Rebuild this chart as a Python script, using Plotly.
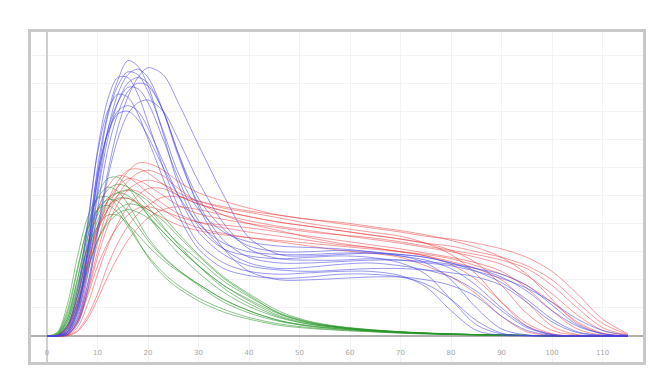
import plotly.graph_objects as go

# Shared sample positions (x) for every curve
X_GRID = [0, 2, 4, 6, 8, 10, 12, 14, 16, 18, 20, 23, 26, 30, 35, 40, 46, 52, 58, 64,
          70, 75, 80, 85, 90, 95, 100, 105, 110, 115]

TICK_VALS = [0, 10, 20, 30, 40, 50, 60, 70, 80, 90, 100, 110]
TICK_TEXT = ["0", "10", "20", "30", "40", "50", "60", "70", "80", "90", "100", "110"]

BLUE_Y = [
    [0, 0, 0.2, 1.0, 3.0, 6.0, 7.9, 9.1, 9.8, 9.6, 8.9, 7.2, 5.4, 3.9, 3.1, 2.85, 2.75, 2.8, 2.85, 2.8, 2.6, 2.2, 1.3, 0.4, 0.07, 0.02, 0.01, 0, 0, 0],
    [0, 0, 0.05, 0.5, 1.8, 3.8, 5.8, 7.4, 8.5, 9.2, 9.55, 9.3, 8.3, 6.8, 5.0, 3.5, 2.9, 2.85, 2.9, 2.95, 2.9, 2.8, 2.6, 2.4, 2.1, 1.6, 0.9, 0.35, 0.08, 0],
    [0, 0, 0.3, 1.4, 3.8, 6.6, 8.4, 9.2, 9.2, 8.6, 7.6, 6.0, 4.6, 3.3, 2.6, 2.3, 2.2, 2.25, 2.3, 2.3, 2.15, 1.75, 0.9, 0.2, 0.03, 0, 0, 0, 0, 0],
    [0, 0, 0.1, 0.7, 2.4, 5.0, 7.0, 8.3, 9.0, 9.2, 9.0, 8.0, 6.5, 4.9, 3.8, 3.2, 3.0, 3.0, 3.05, 3.0, 2.9, 2.8, 2.6, 2.3, 1.9, 1.3, 0.6, 0.15, 0.02, 0],
    [0, 0, 0.15, 0.9, 2.8, 5.5, 7.3, 8.3, 8.85, 8.8, 8.3, 7.0, 5.6, 4.1, 3.1, 2.6, 2.4, 2.45, 2.55, 2.6, 2.5, 2.35, 2.1, 1.6, 0.9, 0.3, 0.05, 0, 0, 0],
    [0, 0.02, 0.35, 1.6, 4.0, 6.5, 8.0, 8.6, 8.5, 7.9, 7.0, 5.6, 4.3, 3.1, 2.4, 2.15, 2.05, 2.1, 2.2, 2.2, 2.1, 1.85, 1.3, 0.55, 0.1, 0.01, 0, 0, 0, 0],
    [0, 0, 0.05, 0.4, 1.6, 3.6, 5.6, 7.0, 7.9, 8.3, 8.4, 8.0, 7.0, 5.5, 4.0, 3.1, 2.75, 2.7, 2.7, 2.75, 2.7, 2.6, 2.5, 2.3, 2.05, 1.7, 1.2, 0.6, 0.2, 0.02],
    [0, 0, 0.2, 1.0, 3.0, 5.6, 7.2, 8.0, 8.2, 8.0, 7.4, 6.2, 5.0, 3.7, 2.9, 2.5, 2.35, 2.3, 2.35, 2.4, 2.4, 2.35, 2.25, 2.1, 1.8, 1.2, 0.5, 0.12, 0.02, 0],
    [0, 0, 0.1, 0.6, 2.1, 4.5, 6.6, 7.9, 8.7, 9.0, 8.9, 8.0, 6.5, 4.6, 3.1, 2.3, 2.0, 2.0, 2.05, 2.1, 2.1, 2.0, 1.8, 1.4, 0.7, 0.2, 0.03, 0, 0, 0],
    [0, 0, 0.25, 1.2, 3.4, 5.8, 7.2, 7.9, 8.0, 7.7, 7.1, 6.0, 5.0, 4.0, 3.3, 3.0, 2.9, 2.9, 2.95, 2.95, 2.85, 2.6, 2.0, 1.0, 0.25, 0.04, 0, 0, 0, 0],
    [0, 0, 0.1, 0.8, 2.6, 5.2, 7.3, 8.6, 9.3, 9.5, 9.2, 8.0, 6.4, 4.7, 3.4, 2.8, 2.6, 2.6, 2.65, 2.7, 2.7, 2.65, 2.55, 2.4, 2.2, 1.8, 1.1, 0.4, 0.08, 0],
    [0, 0, 0.15, 0.9, 2.9, 5.7, 7.8, 8.9, 9.4, 9.3, 8.7, 7.3, 5.8, 4.5, 3.7, 3.35, 3.2, 3.15, 3.1, 3.0, 2.85, 2.7, 2.4, 1.8, 1.0, 0.35, 0.06, 0, 0, 0],
]

RED_Y = [
    [0, 0, 0.1, 0.6, 1.8, 3.3, 4.5, 5.3, 5.85, 6.15, 6.15, 5.9, 5.5, 5.1, 4.8, 4.55, 4.3, 4.15, 4.05, 3.9, 3.75, 3.6, 3.4, 3.15, 2.8, 2.2, 1.3, 0.45, 0.08, 0],
    [0, 0, 0.15, 0.8, 2.2, 3.7, 4.8, 5.5, 5.9, 5.95, 5.8, 5.4, 5.0, 4.7, 4.45, 4.25, 4.05, 3.9, 3.75, 3.6, 3.45, 3.3, 3.05, 2.6, 1.8, 0.8, 0.2, 0.03, 0, 0],
    [0, 0, 0.2, 1.0, 2.5, 3.9, 4.8, 5.3, 5.6, 5.55, 5.35, 5.0, 4.65, 4.35, 4.15, 4.0, 3.85, 3.7, 3.6, 3.5, 3.35, 3.2, 3.05, 2.9, 2.7, 2.4, 1.8, 1.0, 0.3, 0.03],
    [0, 0, 0.05, 0.5, 1.5, 2.8, 3.9, 4.7, 5.2, 5.45, 5.55, 5.4, 5.1, 4.8, 4.55, 4.4, 4.2, 4.0, 3.85, 3.7, 3.55, 3.3, 2.9, 2.2, 1.2, 0.35, 0.05, 0, 0, 0],
    [0, 0.02, 0.35, 1.4, 3.0, 4.4, 5.3, 5.7, 5.65, 5.4, 5.1, 4.7, 4.35, 4.05, 3.85, 3.7, 3.55, 3.4, 3.25, 3.15, 3.0, 2.85, 2.55, 2.0, 1.2, 0.45, 0.08, 0, 0, 0],
    [0, 0, 0.03, 0.3, 1.1, 2.2, 3.2, 4.0, 4.6, 5.0, 5.25, 5.25, 5.0, 4.7, 4.45, 4.25, 4.05, 3.9, 3.75, 3.6, 3.45, 3.3, 3.2, 3.0, 2.8, 2.5, 2.0, 1.2, 0.45, 0.05],
    [0, 0, 0.05, 0.45, 1.4, 2.5, 3.3, 3.9, 4.3, 4.55, 4.6, 4.45, 4.25, 4.05, 3.95, 3.85, 3.7, 3.55, 3.4, 3.25, 3.1, 2.95, 2.8, 2.6, 2.3, 1.7, 0.9, 0.25, 0.03, 0],
    [0, 0, 0.02, 0.2, 0.7, 1.5, 2.5, 3.3, 3.9, 4.35, 4.65, 4.95, 4.95, 4.8, 4.6, 4.45, 4.3, 4.15, 4.0, 3.85, 3.7, 3.55, 3.45, 3.3, 3.1, 2.8, 2.3, 1.5, 0.6, 0.08],
    [0, 0.01, 0.25, 1.1, 2.5, 3.7, 4.5, 5.0, 5.2, 5.15, 4.9, 4.5, 4.15, 3.85, 3.65, 3.5, 3.35, 3.2, 3.05, 2.95, 2.8, 2.5, 2.1, 1.5, 0.7, 0.15, 0.02, 0, 0, 0],
    [0, 0, 0.01, 0.15, 0.6, 1.3, 2.1, 2.8, 3.4, 3.85, 4.2, 4.5, 4.6, 4.5, 4.3, 4.1, 3.9, 3.75, 3.6, 3.45, 3.3, 3.15, 3.0, 2.8, 2.55, 2.15, 1.5, 0.75, 0.2, 0.02],
    [0, 0, 0.05, 0.5, 1.6, 3.0, 4.2, 5.0, 5.5, 5.8, 5.9, 5.7, 5.25, 4.75, 4.3, 4.0, 3.75, 3.5, 3.3, 3.15, 3.0, 2.85, 2.65, 2.4, 2.0, 1.2, 0.35, 0.05, 0, 0],
    [0, 0.01, 0.3, 1.2, 2.6, 3.8, 4.5, 4.85, 4.9, 4.75, 4.5, 4.2, 3.95, 3.75, 3.6, 3.5, 3.4, 3.3, 3.2, 3.1, 3.0, 2.9, 2.75, 2.5, 2.2, 1.8, 1.2, 0.5, 0.1, 0],
]

GREEN_Y = [
    [0, 0.05, 0.6, 2.0, 3.7, 5.0, 5.6, 5.65, 5.3, 4.8, 4.3, 3.55, 2.95, 2.25, 1.55, 1.05, 0.65, 0.42, 0.3, 0.2, 0.14, 0.1, 0.07, 0.05, 0.03, 0.02, 0.01, 0, 0, 0],
    [0, 0.08, 0.8, 2.3, 3.9, 4.9, 5.3, 5.15, 4.7, 4.1, 3.5, 2.85, 2.35, 1.8, 1.2, 0.82, 0.52, 0.35, 0.25, 0.18, 0.12, 0.09, 0.06, 0.04, 0.03, 0.02, 0.01, 0, 0, 0],
    [0, 0.03, 0.5, 1.7, 3.2, 4.3, 4.9, 5.1, 5.0, 4.7, 4.3, 3.7, 3.15, 2.5, 1.8, 1.3, 0.78, 0.47, 0.3, 0.2, 0.14, 0.1, 0.07, 0.05, 0.03, 0.02, 0.01, 0, 0, 0],
    [0, 0.02, 0.4, 1.4, 2.8, 3.9, 4.6, 4.9, 4.9, 4.7, 4.4, 3.85, 3.3, 2.7, 1.95, 1.4, 0.82, 0.5, 0.32, 0.22, 0.15, 0.1, 0.07, 0.05, 0.03, 0.02, 0.01, 0, 0, 0],
    [0, 0.1, 0.9, 2.4, 3.8, 4.5, 4.65, 4.4, 3.9, 3.35, 2.85, 2.25, 1.8, 1.35, 0.95, 0.66, 0.43, 0.3, 0.22, 0.16, 0.11, 0.08, 0.06, 0.04, 0.03, 0.02, 0.01, 0, 0, 0],
    [0, 0.02, 0.35, 1.2, 2.4, 3.4, 4.0, 4.35, 4.5, 4.4, 4.2, 3.7, 3.15, 2.5, 1.8, 1.25, 0.72, 0.45, 0.3, 0.2, 0.14, 0.1, 0.07, 0.05, 0.03, 0.02, 0.01, 0, 0, 0],
    [0, 0.04, 0.6, 1.8, 3.1, 3.9, 4.3, 4.3, 4.0, 3.6, 3.2, 2.7, 2.3, 1.85, 1.3, 0.9, 0.55, 0.37, 0.27, 0.19, 0.13, 0.09, 0.06, 0.04, 0.03, 0.02, 0.01, 0, 0, 0],
    [0, 0.03, 0.5, 1.6, 3.2, 4.5, 5.2, 5.4, 5.3, 5.0, 4.6, 3.9, 3.25, 2.5, 1.7, 1.15, 0.68, 0.42, 0.29, 0.2, 0.14, 0.1, 0.07, 0.05, 0.03, 0.02, 0.01, 0, 0, 0],
    [0, 0.12, 1.1, 2.8, 4.2, 4.9, 4.95, 4.6, 4.0, 3.4, 2.8, 2.15, 1.7, 1.25, 0.85, 0.6, 0.38, 0.27, 0.2, 0.15, 0.1, 0.07, 0.05, 0.04, 0.03, 0.02, 0.01, 0, 0, 0],
    [0, 0.02, 0.4, 1.4, 2.9, 4.1, 4.8, 5.1, 5.2, 5.05, 4.8, 4.25, 3.65, 2.9, 2.1, 1.5, 0.88, 0.52, 0.34, 0.23, 0.15, 0.11, 0.08, 0.05, 0.03, 0.02, 0.01, 0, 0, 0],
    [0, 0.06, 0.7, 2.0, 3.5, 4.5, 4.85, 4.8, 4.4, 3.9, 3.4, 2.8, 2.35, 1.85, 1.3, 0.9, 0.55, 0.35, 0.25, 0.18, 0.12, 0.09, 0.06, 0.04, 0.03, 0.02, 0.01, 0, 0, 0],
    [0, 0.01, 0.3, 1.1, 2.3, 3.4, 4.1, 4.5, 4.7, 4.65, 4.5, 4.1, 3.55, 2.85, 2.05, 1.45, 0.8, 0.48, 0.32, 0.22, 0.15, 0.1, 0.07, 0.05, 0.03, 0.02, 0.01, 0, 0, 0],
]

GROUPS = [
    ("rgba(40,150,40,0.55)", GREEN_Y),
    ("rgba(235,55,55,0.5)", RED_Y),
    ("rgba(70,70,225,0.55)", BLUE_Y),
]

fig = go.Figure()
for color, curves in GROUPS:
    for ys in curves:
        fig.add_trace(go.Scatter(
            x=X_GRID, y=ys, mode="lines",
            line=dict(color=color, width=1, shape="spline", smoothing=0.9),
            hoverinfo="skip", showlegend=False,
        ))

W, H = 669, 389
L, R, T, B = 31, 26, 32, 27
pw, ph = W - L - R, H - T - B

# outer gray frame around the chart
fig.add_shape(type="rect", xref="paper", yref="paper",
              x0=(29.5 - L) / pw, x1=(644.5 - L) / pw,
              y0=-(363.5 - (H - B)) / ph, y1=1 + (T - 30.5) / ph,
              line=dict(color="#c8c8c8", width=3), fillcolor="rgba(0,0,0,0)", layer="above")

fig.update_layout(
    width=W, height=H,
    margin=dict(l=L, r=R, t=T, b=B, pad=0),
    paper_bgcolor="white", plot_bgcolor="white",
    showlegend=False,
    xaxis=dict(
        range=[-3.17, 118.0], tickmode="array", tickvals=TICK_VALS, ticktext=TICK_TEXT,
        showgrid=True, gridcolor="#f3f3f3", gridwidth=1,
        zeroline=True, zerolinecolor="#cfcfcf", zerolinewidth=2,
        showline=False, ticks="", ticklabelposition="inside", ticklabelstandoff=3,
        tickfont=dict(family="DejaVu Sans", size=7, color="#a8a8a8"),
    ),
    yaxis=dict(
        range=[-0.925, 10.82], dtick=1, tick0=0,
        showgrid=True, gridcolor="#f3f3f3", gridwidth=1,
        zeroline=True, zerolinecolor="#b0b0b0", zerolinewidth=1.5,
        showline=False, showticklabels=False, ticks="",
    ),
)

fig.write_html("out.html")
